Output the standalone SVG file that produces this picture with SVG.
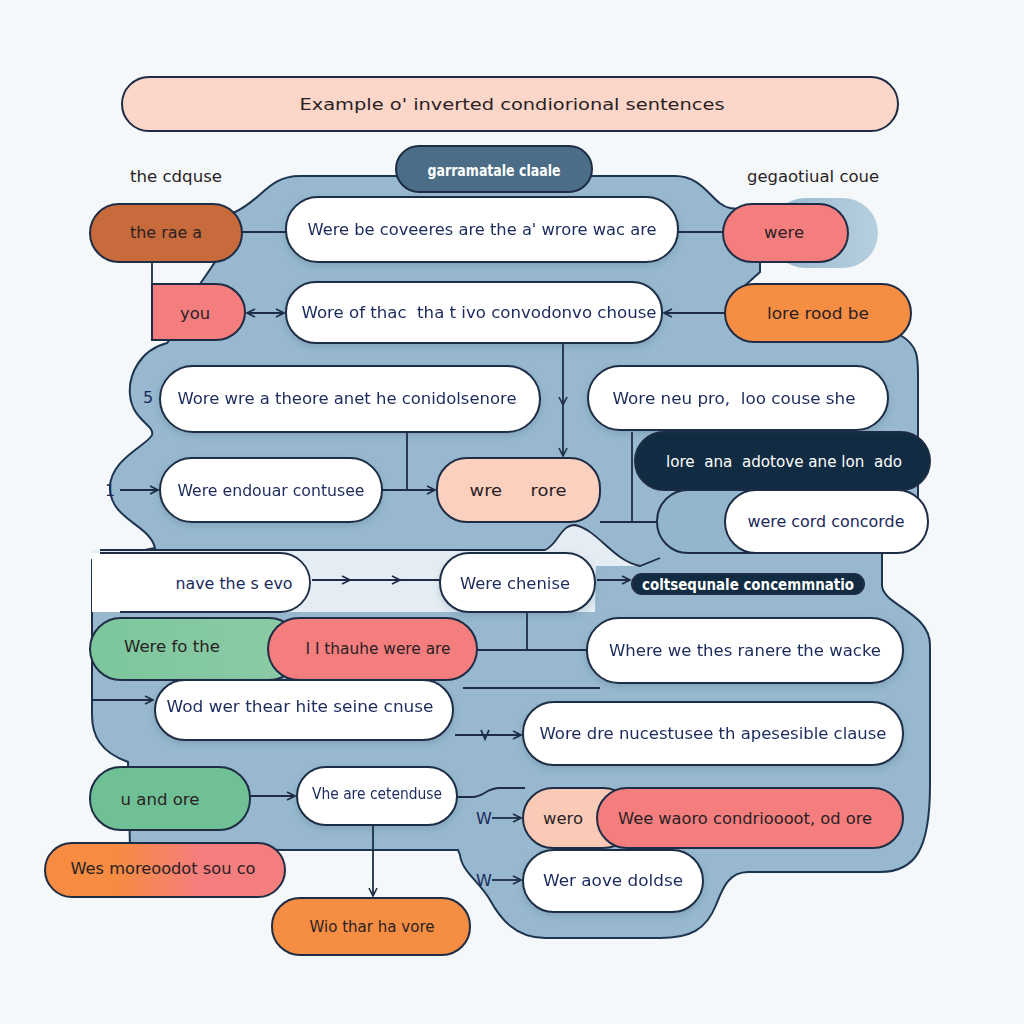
<svg xmlns="http://www.w3.org/2000/svg" width="1024" height="1024" viewBox="0 0 1024 1024">
<style>
.n{stroke:#1e2d45;stroke-width:2}
.w{fill:#ffffff}
.t{font-family:"DejaVu Sans","Open Sans",sans-serif;font-size:16px;fill:#1b2a5c;text-anchor:middle;dominant-baseline:central;white-space:pre}
.d{fill:#2a1f24}
.l{fill:#ffffff}
.c{fill:none;stroke:#1e2d45;stroke-width:1.8}
.blob{fill:#97b8ce;stroke:#1e3550;stroke-width:2}
</style>
<defs>
<marker id="ah" viewBox="0 0 10 10" refX="9" refY="5" markerWidth="10" markerHeight="10" markerUnits="userSpaceOnUse" orient="auto-start-reverse"><path d="M1,1 L9,5 L1,9" fill="none" stroke="#1e2d45" stroke-width="1.6"/></marker>
<linearGradient id="gWes" x1="0" y1="0" x2="1" y2="0"><stop offset="0.3" stop-color="#f58c42"/><stop offset="0.65" stop-color="#f47e7e"/></linearGradient>
<linearGradient id="gGreen" x1="0" y1="0" x2="1" y2="0"><stop offset="0" stop-color="#7cc69c"/><stop offset="1" stop-color="#8ccba6"/></linearGradient>
<linearGradient id="gLobe" x1="0" y1="0" x2="1" y2="0"><stop offset="0" stop-color="#97b8ce"/><stop offset="1" stop-color="#b7cfdf"/></linearGradient>
<filter id="sh" x="-10%" y="-20%" width="120%" height="150%"><feDropShadow dx="0" dy="3" stdDeviation="3" flood-color="#2b4660" flood-opacity="0.18"/></filter>
</defs>
<rect width="1024" height="1024" fill="#f4f8fb"/>

<g id="background">
<path class="blob" d="M235,212 C262,200 268,176 300,176 L675,176 C705,176 712,205 730,208 L760,212 L760,272 L740,290 L900,335 C918,345 918,358 918,375 L918,540 L882,553 L882,585 C882,605 930,612 930,645 L930,785 C930,850 915,872 880,872 L748,872 C728,872 722,890 716,905 C706,930 690,938 660,938 L545,938 C515,938 500,918 490,900 C480,882 462,872 460,855 L458,850 L285,850 L130,848 L128,762 C100,752 92,735 92,715 L92,560 L155,548 C150,525 112,520 110,490 C108,460 148,445 152,435 C155,425 132,420 130,395 C128,375 140,350 167,343 L200,300 L200,284 L215,262 L225,215 Z"/>
<rect x="770" y="198" width="108" height="70" rx="35" fill="url(#gLobe)"/>
<path d="M92,550 L545,550 C558,545 560,525 575,525 C598,530 612,560 640,566 L596,566 L595,612 L92,612 Z" fill="#e4edf3"/>
<path class="c" d="M100,550 L545,550 C558,545 560,525 575,525 C598,530 612,560 640,566 L660,558"/>
</g>

<g id="title"><rect class="n" x="122" y="77" width="776" height="54" rx="27" fill="#fcd6c8"/><text class="t d" x="512" y="104" font-size="18" textLength="425" lengthAdjust="spacingAndGlyphs">Example o' inverted condiorional sentences</text></g>
<g id="lbl-left"><text class="t d" x="176" y="176" font-size="14" textLength="92" lengthAdjust="spacingAndGlyphs">the cdquse</text></g>
<g id="lbl-right"><text class="t d" x="813" y="176" font-size="14" textLength="132" lengthAdjust="spacingAndGlyphs">gegaotiual coue</text></g>
<g id="pill-top"><rect class="n" x="396" y="146" width="196" height="46" rx="23" fill="#4b6d88"/><text class="t l" x="494" y="170" font-size="12" font-weight="bold" textLength="133" lengthAdjust="spacingAndGlyphs">garramatale claale</text></g>

<g id="connectors">
<line class="c" x1="242" y1="232" x2="286" y2="232"/>
<line class="c" x1="678" y1="232" x2="723" y2="232"/>
<line class="c" x1="152" y1="262" x2="152" y2="284"/>
<line class="c" x1="247" y1="313" x2="284" y2="313" marker-start="url(#ah)" marker-end="url(#ah)"/>
<line class="c" x1="725" y1="313" x2="664" y2="313" marker-end="url(#ah)"/>
<path class="c" d="M563,343 L563,405 L563,456" marker-mid="url(#ah)" marker-end="url(#ah)"/>
<line class="c" x1="407" y1="432" x2="407" y2="490"/>
<line class="c" x1="382" y1="490" x2="435" y2="490" marker-end="url(#ah)"/>
<line class="c" x1="120" y1="490" x2="158" y2="490" marker-end="url(#ah)"/>
<line class="c" x1="632" y1="432" x2="632" y2="522"/>
<line class="c" x1="600" y1="522" x2="660" y2="522"/>
<line class="c" x1="682" y1="521" x2="725" y2="521"/>
<path class="c" d="M92,580 L166,580" marker-end="url(#ah)"/>
<line class="c" x1="168" y1="572" x2="168" y2="588"/>
<line class="c" x1="92" y1="580" x2="92" y2="700"/>
<line class="c" x1="92" y1="700" x2="153" y2="700" marker-end="url(#ah)"/>
<path class="c" d="M312,580 L350,580 L400,580 L440,580" marker-mid="url(#ah)"/>
<line class="c" x1="597" y1="580" x2="630" y2="580" marker-end="url(#ah)"/>
<line class="c" x1="228" y1="646" x2="264" y2="646" marker-end="url(#ah)"/>
<line class="c" x1="477" y1="650" x2="587" y2="650"/>
<line class="c" x1="527" y1="612" x2="527" y2="650"/>
<line class="c" x1="463" y1="688" x2="600" y2="688"/>
<line class="c" x1="455" y1="735" x2="521" y2="735" marker-end="url(#ah)"/>
<path class="c" d="M481,730 L485,739 L489,730"/>
<line class="c" x1="250" y1="796" x2="295" y2="796" marker-end="url(#ah)"/>
<path class="c" d="M457,797 L472,797 C485,797 485,788 500,788 L525,788"/>
<line class="c" x1="492" y1="818" x2="521" y2="818" marker-end="url(#ah)"/>
<line class="c" x1="492" y1="880" x2="521" y2="880" marker-end="url(#ah)"/>
<line class="c" x1="597" y1="862" x2="597" y2="850" marker-end="url(#ah)"/>
<line class="c" x1="373" y1="825" x2="373" y2="896" marker-end="url(#ah)"/>
<text class="t" x="148" y="397" font-size="12">5</text>
<text class="t" x="110" y="490" font-size="12">1</text>
<text class="t" x="669" y="521" font-size="12">10</text>
<text class="t" x="484" y="818" font-size="11">W</text>
<text class="t" x="484" y="880" font-size="11">W</text>
</g>

<g id="n-rae"><rect class="n" x="90" y="204" width="152" height="58" rx="29" fill="#c86b3c"/><text class="t d" x="166" y="232" font-size="15" textLength="72" lengthAdjust="spacingAndGlyphs">the rae a</text></g>
<g id="n-coveeres" filter="url(#sh)"><rect class="n w" x="286" y="197" width="392" height="65" rx="32"/><text class="t" x="482" y="229" textLength="349" lengthAdjust="spacingAndGlyphs">Were be coveeres are the a' wrore wac are</text></g>
<g id="n-were"><rect class="n" x="723" y="204" width="125" height="58" rx="29" fill="#f47e7e"/><text class="t d" x="784" y="232" font-size="14" textLength="40" lengthAdjust="spacingAndGlyphs">were</text></g>
<g id="n-you"><path class="n" d="M152,284 L216,284 A29,28 0 0 1 216,340 L152,340 Z" fill="#f47e7e"/><text class="t d" x="195" y="313" textLength="30" lengthAdjust="spacingAndGlyphs">you</text></g>
<g id="n-wore-of" filter="url(#sh)"><rect class="n w" x="286" y="282" width="376" height="61" rx="30"/><text class="t" x="479" y="312" textLength="355" lengthAdjust="spacingAndGlyphs">Wore of thac  tha t ivo convodonvo chouse</text></g>
<g id="n-lore"><rect class="n" x="725" y="284" width="186" height="58" rx="29" fill="#f58d42"/><text class="t d" x="818" y="313" textLength="102" lengthAdjust="spacingAndGlyphs">lore rood be</text></g>
<g id="n-wre" filter="url(#sh)"><rect class="n w" x="160" y="366" width="380" height="66" rx="33"/><text class="t" x="347" y="398" textLength="339" lengthAdjust="spacingAndGlyphs">Wore wre a theore anet he conidolsenore</text></g>
<g id="n-neu" filter="url(#sh)"><rect class="n w" x="588" y="366" width="300" height="64" rx="32"/><text class="t" x="734" y="398" textLength="243" lengthAdjust="spacingAndGlyphs">Wore neu pro,  loo couse she</text></g>
<g id="n-endouar" filter="url(#sh)"><rect class="n w" x="160" y="458" width="222" height="64" rx="32"/><text class="t" x="271" y="490" textLength="187" lengthAdjust="spacingAndGlyphs">Were endouar contusee</text></g>
<g id="n-wrerore"><rect class="n" x="437" y="458" width="163" height="64" rx="30" fill="#fcd0bf"/><text class="t d" x="518" y="490" textLength="97" lengthAdjust="spacingAndGlyphs">wre     rore</text></g>
<g id="n-dark"><rect class="n" x="635" y="432" width="295" height="58" rx="29" fill="#102b42"/><text class="t l" x="784" y="461" font-size="15" textLength="236" lengthAdjust="spacingAndGlyphs">lore  ana  adotove ane lon  ado</text></g>
<g id="n-cord"><rect class="n" x="657" y="490" width="240" height="63" rx="31" fill="#94b6cc"/><rect class="n w" x="725" y="490" width="203" height="63" rx="31"/><text class="t" x="826" y="521" textLength="157" lengthAdjust="spacingAndGlyphs">were cord concorde</text></g>
<g id="n-nave"><path d="M92,553 L280,553 A30,29.5 0 0 1 280,612 L92,612 Z" fill="#ffffff"/><path class="c" d="M100,553 L280,553 A30,29.5 0 0 1 280,612 L120,612"/><text class="t" x="234" y="583" textLength="117" lengthAdjust="spacingAndGlyphs">nave the s evo</text></g>
<g id="n-chenise" filter="url(#sh)"><rect class="n w" x="440" y="553" width="155" height="59" rx="29"/><text class="t" x="515" y="583" textLength="110" lengthAdjust="spacingAndGlyphs">Were chenise</text></g>
<g id="n-colts"><rect class="n" x="632" y="574" width="232" height="20" rx="10" fill="#102b42"/><text class="t l" x="748" y="584" font-size="13" font-weight="bold" textLength="212" lengthAdjust="spacingAndGlyphs">coltsequnale concemmnatio</text></g>
<g id="n-fo"><rect class="n" x="90" y="618" width="210" height="62" rx="31" fill="url(#gGreen)"/><text class="t d" x="172" y="646" textLength="96" lengthAdjust="spacingAndGlyphs">Were fo the</text></g>
<g id="n-thauhe"><rect class="n" x="268" y="618" width="209" height="62" rx="31" fill="#f47e7e"/><text class="t d" x="378" y="648" textLength="145" lengthAdjust="spacingAndGlyphs">I I thauhe were are</text></g>
<g id="n-where" filter="url(#sh)"><rect class="n w" x="587" y="618" width="316" height="65" rx="32"/><text class="t" x="745" y="650" textLength="272" lengthAdjust="spacingAndGlyphs">Where we thes ranere the wacke</text></g>
<g id="n-wod" filter="url(#sh)"><rect class="n w" x="155" y="680" width="298" height="60" rx="30"/><text class="t" x="300" y="706" textLength="267" lengthAdjust="spacingAndGlyphs">Wod wer thear hite seine cnuse</text></g>
<g id="n-dre" filter="url(#sh)"><rect class="n w" x="523" y="702" width="380" height="63" rx="31"/><text class="t" x="713" y="733" textLength="347" lengthAdjust="spacingAndGlyphs">Wore dre nucestusee th apesesible clause</text></g>
<g id="n-uand"><rect class="n" x="90" y="767" width="160" height="63" rx="31" fill="#70c095"/><text class="t d" x="160" y="799" font-size="14" textLength="79" lengthAdjust="spacingAndGlyphs">u and ore</text></g>
<g id="n-vhe" filter="url(#sh)"><rect class="n w" x="297" y="767" width="160" height="58" rx="29"/><text class="t" x="377" y="793" font-size="15" textLength="130" lengthAdjust="spacingAndGlyphs">Vhe are cetenduse</text></g>
<g id="n-wero"><rect class="n" x="523" y="788" width="110" height="60" rx="30" fill="#fbcab7"/><text class="t d" x="563" y="818" font-size="14" textLength="40" lengthAdjust="spacingAndGlyphs">wero</text></g>
<g id="n-wee"><rect class="n" x="597" y="788" width="306" height="60" rx="30" fill="#f47e7e"/><text class="t d" x="745" y="818" textLength="254" lengthAdjust="spacingAndGlyphs">Wee waoro condrioooot, od ore</text></g>
<g id="n-wes"><rect class="n" x="45" y="843" width="240" height="54" rx="27" fill="url(#gWes)"/><text class="t d" x="163" y="868" textLength="185" lengthAdjust="spacingAndGlyphs">Wes moreoodot sou co</text></g>
<g id="n-wer" filter="url(#sh)"><rect class="n w" x="523" y="850" width="180" height="62" rx="31"/><text class="t" x="613" y="880" textLength="140" lengthAdjust="spacingAndGlyphs">Wer aove doldse</text></g>
<g id="n-wio"><rect class="n" x="272" y="898" width="198" height="57" rx="28" fill="#f58d42"/><text class="t d" x="372" y="926" textLength="125" lengthAdjust="spacingAndGlyphs">Wio thar ha vore</text></g>
</svg>
